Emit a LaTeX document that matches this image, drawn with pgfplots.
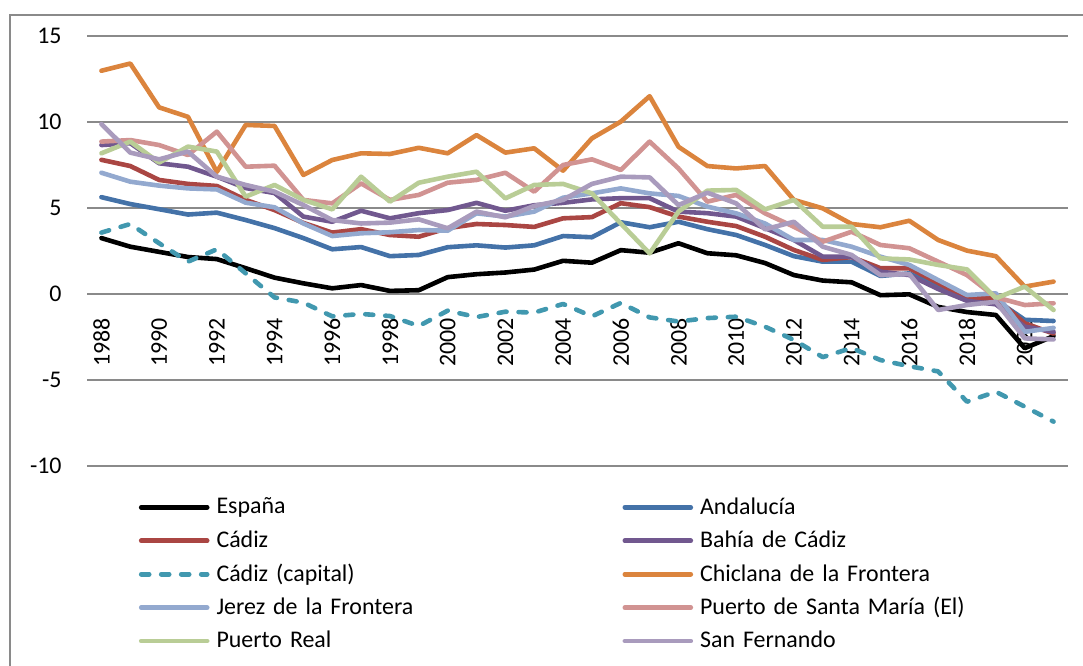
\documentclass[border=0pt]{standalone}
\usepackage{pgfplots}
\usepackage{pgfplotstable}
\pgfplotsset{compat=1.18}
\usepackage{fontspec}
\setmainfont{Carlito}
\definecolor{cEsp}{HTML}{000000}
\definecolor{cAnd}{HTML}{4472A8}
\definecolor{cCad}{HTML}{AA4643}
\definecolor{cBah}{HTML}{71588F}
\definecolor{cCap}{HTML}{4198AF}
\definecolor{cChi}{HTML}{DB843D}
\definecolor{cJer}{HTML}{93A9CF}
\definecolor{cPSM}{HTML}{D19392}
\definecolor{cPRe}{HTML}{B9CD96}
\definecolor{cSFe}{HTML}{A99BBD}
\definecolor{gridc}{HTML}{8A8A8A}
\pgfplotstableread{
year Esp And Cad Bah Cap Chi Jer PSM PRe SFe
1988 3.25 5.63 7.80 8.66 3.57 12.98 7.05 8.86 8.18 9.88
1989 2.75 5.23 7.44 8.77 4.07 13.40 6.53 8.95 8.86 8.22
1990 2.45 4.93 6.63 7.60 2.95 10.85 6.30 8.66 7.64 7.83
1991 2.15 4.62 6.40 7.40 1.88 10.30 6.14 8.08 8.57 8.28
1992 2.03 4.73 6.28 6.82 2.60 7.10 6.08 9.44 8.28 6.82
1993 1.50 4.30 5.47 6.16 1.20 9.83 5.31 7.40 5.66 6.34
1994 0.95 3.83 4.88 5.87 -0.20 9.77 5.04 7.46 6.34 5.95
1995 0.62 3.25 4.13 4.50 -0.50 6.92 4.10 5.47 5.47 5.17
1996 0.33 2.60 3.57 4.20 -1.30 7.79 3.37 5.27 4.92 4.30
1997 0.52 2.73 3.77 4.84 -1.16 8.18 3.53 6.43 6.82 4.10
1998 0.18 2.20 3.43 4.40 -1.28 8.14 3.59 5.47 5.37 4.15
1999 0.22 2.27 3.33 4.70 -1.86 8.50 3.72 5.76 6.47 4.34
2000 0.98 2.72 3.83 4.88 -0.97 8.18 3.68 6.47 6.82 3.82
2001 1.15 2.83 4.07 5.30 -1.34 9.24 4.69 6.63 7.11 4.79
2002 1.25 2.70 4.01 4.84 -1.03 8.22 4.50 7.05 5.56 4.46
2003 1.42 2.83 3.90 5.16 -1.08 8.47 4.79 5.95 6.34 5.12
2004 1.93 3.37 4.40 5.30 -0.58 7.17 5.60 7.50 6.40 5.47
2005 1.82 3.30 4.47 5.50 -1.30 9.05 5.85 7.83 5.85 6.40
2006 2.55 4.17 5.28 5.57 -0.52 10.02 6.14 7.21 4.10 6.82
2007 2.40 3.88 5.05 5.57 -1.36 11.50 5.85 8.86 2.36 6.78
2008 2.95 4.20 4.50 4.79 -1.60 8.56 5.70 7.30 4.79 5.17
2009 2.37 3.77 4.20 4.70 -1.40 7.44 5.08 5.37 6.01 5.89
2010 2.25 3.43 3.95 4.50 -1.32 7.30 4.69 5.76 6.05 5.27
2011 1.80 2.85 3.33 3.83 -1.90 7.44 4.10 4.69 4.92 3.76
2012 1.10 2.20 2.56 3.14 -2.67 5.47 3.14 3.91 5.47 4.20
2013 0.78 1.88 1.98 2.17 -3.67 4.98 3.14 3.04 3.91 2.75
2014 0.68 1.88 2.15 2.17 -3.14 4.07 2.75 3.62 3.91 2.27
2015 -0.07 1.05 1.50 1.30 -3.84 3.88 2.17 2.85 2.07 1.10
2016 -0.02 1.20 1.50 1.10 -4.20 4.26 1.69 2.66 2.01 1.16
2017 -0.75 0.45 0.64 0.29 -4.50 3.14 0.81 1.88 1.69 -0.93
2018 -1.05 -0.30 -0.25 -0.40 -6.26 2.52 -0.06 1.10 1.43 -0.64
2019 -1.22 -0.35 -0.25 -0.60 -5.68 2.20 0.04 -0.19 -0.25 -0.45
2020 -3.15 -1.50 -1.70 -1.90 -6.55 0.43 -2.20 -0.64 0.43 -2.58
2021 -2.45 -1.57 -2.30 -2.20 -7.42 0.72 -1.97 -0.54 -0.93 -2.64
}\datatable
\begin{document}
\begin{tikzpicture}
\useasboundingbox (-43.5bp,-100bp) rectangle (498bp,233bp);
\draw[gridc, line width=1bp] (-38.5bp,-110bp) -- (-38.5bp,225.5bp) -- (510bp,225.5bp);
\begin{axis}[
  at={(0,0)}, anchor=south west,
  scale only axis, width=490.5bp, height=215bp,
  xmin=1987.5, xmax=2021.5, ymin=-10, ymax=15,
  axis x line=middle, axis y line=left,
  axis line style={draw=none},
  major tick length=0pt,
  ytick={-10,-5,0,5,10,15},
  yticklabels={-10,-5,0,5,10,15},
  xtick={1988,1990,...,2020},
  xticklabels={1988,1990,1992,1994,1996,1998,2000,2002,2004,2006,2008,2010,2012,2014,2016,2018,2020},
  ymajorgrids,
  grid style={gridc, line width=0.9bp},
  yticklabel style={font=\fontsize{12}{14}\selectfont, anchor=east, inner sep=0pt, xshift=-12.5bp},
  xticklabel style={font=\fontsize{12}{14}\selectfont, yshift=-12bp, rotate=90, anchor=east, inner sep=0pt},
  every axis plot/.append style={line width=2.3bp, line join=round, line cap=round},
  legend columns=2,
  legend cell align=left,
  legend image code/.code={\draw[#1] (0bp,0bp) -- (33bp,0bp);},
  legend style={at={(rel axis cs:0.0525,-0.0565)}, anchor=north west, draw=none, fill=none,
    inner sep=0pt, row sep=0pt, column sep=3.5bp,
    nodes={inner sep=0pt, minimum height=16.7bp, text width=199.5bp, font=\fontsize{12}{14}\selectfont}},
]
\addplot[cEsp] table[x=year,y=Esp]{\datatable}; \addlegendentry{España}
\addplot[cAnd] table[x=year,y=And]{\datatable}; \addlegendentry{Andalucía}
\addplot[cCad] table[x=year,y=Cad]{\datatable}; \addlegendentry{Cádiz}
\addplot[cBah] table[x=year,y=Bah]{\datatable}; \addlegendentry{Bahía de Cádiz}
\addplot[cCap, dash pattern=on 4bp off 6bp] table[x=year,y=Cap]{\datatable}; \addlegendentry{Cádiz (capital)}
\addplot[cChi] table[x=year,y=Chi]{\datatable}; \addlegendentry{Chiclana de la Frontera}
\addplot[cJer] table[x=year,y=Jer]{\datatable}; \addlegendentry{Jerez de la Frontera}
\addplot[cPSM] table[x=year,y=PSM]{\datatable}; \addlegendentry{Puerto de Santa María (El)}
\addplot[cPRe] table[x=year,y=PRe]{\datatable}; \addlegendentry{Puerto Real}
\addplot[cSFe] table[x=year,y=SFe]{\datatable}; \addlegendentry{San Fernando}
\end{axis}
\end{tikzpicture}
\end{document}
